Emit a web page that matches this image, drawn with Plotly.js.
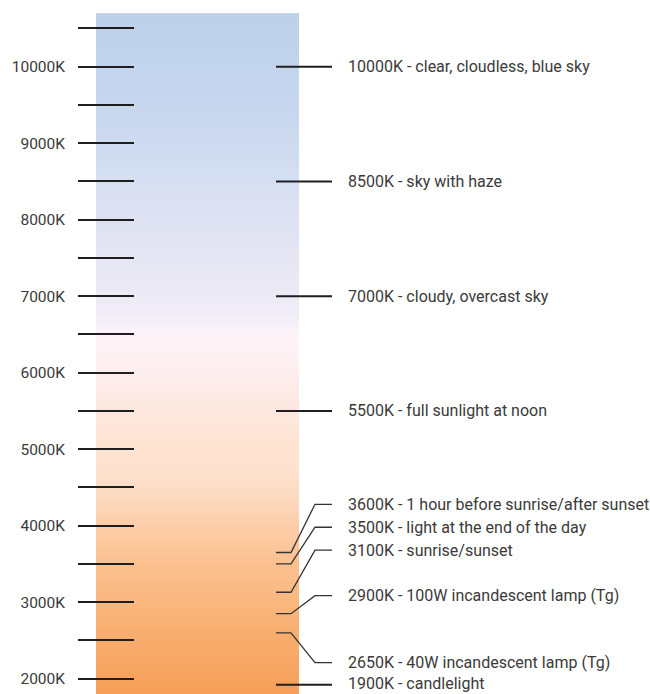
<!DOCTYPE html>
<html>
<head>
<meta charset="utf-8">
<script src="https://cdn.plot.ly/plotly-3.0.1.min.js"></script>
<style>html,body{margin:0;padding:0;background:#fff;}#chart{width:650px;height:694px;}</style>
</head>
<body>
<div id="chart"></div>
<script>
// Colour-temperature reference levels (K) as drawn, and their descriptions
const markerLevel = [10000, 8500, 7000, 5500, 3650, 3500, 3130, 2850, 2600, 1920];
const labelText = [
  "10000K - clear, cloudless, blue sky",
  "8500K - sky with haze",
  "7000K - cloudy, overcast sky",
  "5500K - full sunlight at noon",
  "3600K - 1 hour before sunrise/after sunset",
  "3500K - light at the end of the day",
  "3100K - sunrise/sunset",
  "2900K - 100W incandescent lamp (Tg)",
  "2650K - 40W incandescent lamp (Tg)",
  "1900K - candlelight"
];
// where each label text sits (K), labels offset to avoid overlap
const labelLevel = [10000, 8500, 7000, 5500, 4280, 3980, 3680, 3085, 2210, 1935];

// gradient of the bar: temperature stops and colours
const stopTemp = [1800, 2000, 2500, 3030, 3490, 3940, 4330, 4730, 5000, 5500, 6000, 6500, 6600, 6700, 7000, 7500, 8000, 8500, 8900, 9560, 10700];
const stopColor = ['#F69F59', '#F7A25E', '#F8AC6C', '#FAB880', '#FBC08F', '#FDCCA6', '#FDD8BE', '#FDE2CF', '#FDE3D0', '#FDE7DE', '#FEEEF0', '#FEF4F8', '#F8F2F9', '#F2EEF8', '#ECEAF5', '#E6E6F4', '#DEE2F2', '#D6DFF2', '#CFDBF0', '#C6D6EE', '#BDD0EA'];

const tMin = 1800, tMax = 10700;
const barY = [];
for (let t = tMin; t <= tMax; t += 20) barY.push(t);
const barZ = [];
for (let i = 0; i < barY.length - 1; i++) {
  const c = (barY[i] + barY[i + 1]) / 2;
  barZ.push([c, c]);
}
const colorscale = stopTemp.map((t, i) => [(t - tMin) / (tMax - tMin), stopColor[i]]);

const traces = [{
  type: 'heatmap',
  x: [96, 197.5, 299],
  y: barY,
  z: barZ,
  zmin: tMin, zmax: tMax,
  colorscale: colorscale,
  showscale: false,
  hoverinfo: 'skip'
}];

const annotations = [];
markerLevel.forEach((v, i) => {
  const bent = Math.abs(labelLevel[i] - v) > 25;
  traces.push({
    type: 'scatter', mode: 'lines',
    x: bent ? [276, 291, 315, 332] : [276, 332],
    y: bent ? [v, v, labelLevel[i], labelLevel[i]] : [v, v],
    line: {color: bent ? '#333333' : '#1e1e1e', width: bent ? 1.3 : 2},
    hoverinfo: 'skip', showlegend: false
  });
  annotations.push({
    x: 346, y: labelLevel[i], xref: 'x', yref: 'y',
    text: labelText[i], showarrow: false,
    xanchor: 'left', yanchor: 'middle',
    font: {family: 'Roboto, sans-serif', size: 16, color: '#3a3a3a'}
  });
});

const layout = {
  width: 650, height: 694,
  margin: {l: 78, r: 0, t: 0, b: 0},
  paper_bgcolor: '#ffffff', plot_bgcolor: '#ffffff',
  showlegend: false,
  font: {family: 'Roboto, sans-serif', size: 15, color: '#3a3a3a'},
  xaxis: {range: [78, 650], visible: false, fixedrange: true},
  yaxis: {
    range: [1800, 10872],
    showgrid: false, zeroline: false, showline: false,
    tickmode: 'linear', tick0: 0, dtick: 1000,
    tickformat: 'd', ticksuffix: 'K',
    ticks: 'inside', ticklen: 56, tickwidth: 2, tickcolor: '#1e1e1e',
    ticklabelstandoff: 12,
    tickfont: {family: 'Roboto, sans-serif', size: 15.5, color: '#3a3a3a'},
    minor: {tickmode: 'linear', tick0: 500, dtick: 1000, ticks: 'inside', ticklen: 56, tickwidth: 2, tickcolor: '#1e1e1e', showgrid: false},
    layer: 'above traces'
  },
  annotations: annotations
};

Plotly.newPlot('chart', traces, layout, {displayModeBar: false, staticPlot: true});
</script>
</body>
</html>
